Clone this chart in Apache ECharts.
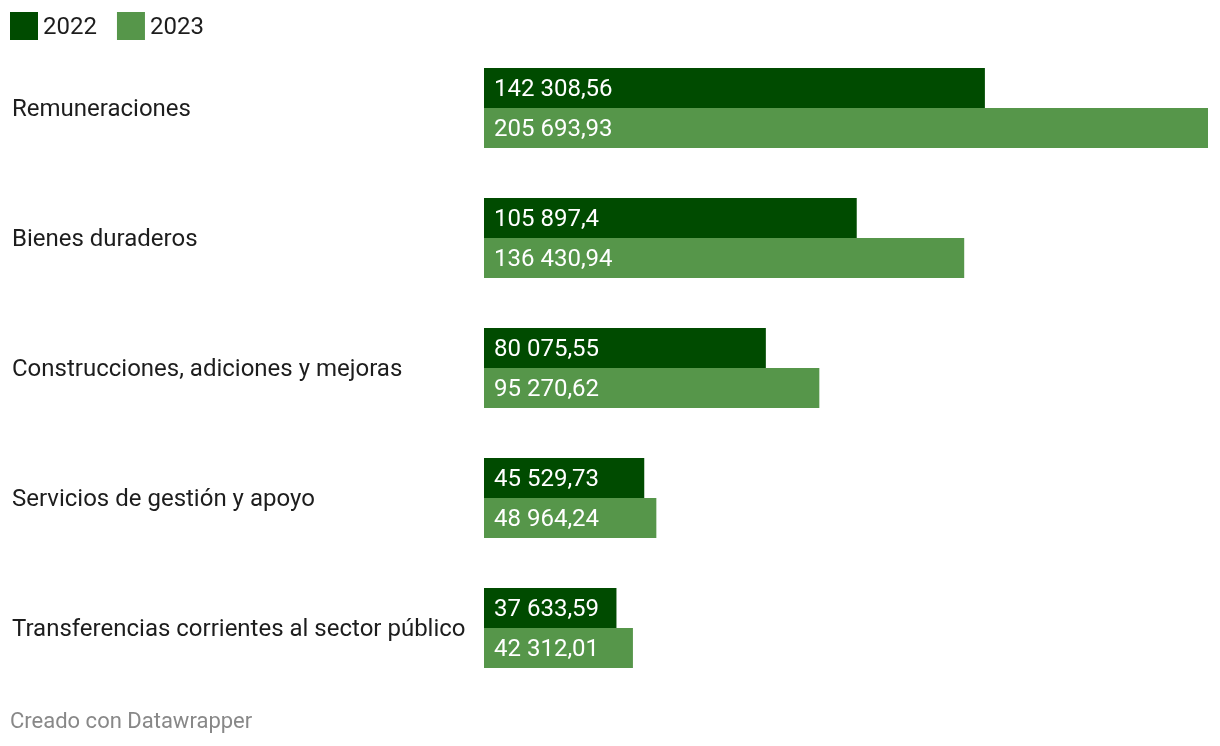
<!DOCTYPE html>
<html>
<head>
<meta charset="utf-8">
<script src="https://cdn.jsdelivr.net/npm/echarts@6/dist/echarts.min.js"></script>
<style>
html,body{margin:0;padding:0;background:#fff;}
#chart{width:1220px;height:746px;}
</style>
</head>
<body>
<div id="chart"></div>
<script>
const categories = [
  "Remuneraciones",
  "Bienes duraderos",
  "Construcciones, adiciones y mejoras",
  "Servicios de gestión y apoyo",
  "Transferencias corrientes al sector público"
];
const seriesNames = ["2022", "2023"];
const values2022 = [142308.56, 105897.4, 80075.55, 45529.73, 37633.59];
const values2023 = [205693.93, 136430.94, 95270.62, 48964.24, 42312.01];
const footerText = "Creado con Datawrapper";

function fmt(v) {
  const s = String(v);
  const parts = s.split('.');
  const intPart = parts[0].replace(/\B(?=(\d{3})+(?!\d))/g, ' ');
  return parts.length > 1 ? intPart + ',' + parts[1] : intPart;
}

const chart = echarts.init(document.getElementById('chart'));
const font = 'Roboto, "Noto Sans", sans-serif';
const colors = ['#004b00', '#56964a'];
const maxVal = Math.max(...values2022, ...values2023);

chart.setOption({
  animation: false,
  color: colors,
  textStyle: { fontFamily: font },
  legend: {
    left: 10, top: 12, padding: 0,
    itemWidth: 28, itemHeight: 28,
    itemGap: 20, itemTextGap: 7,
    icon: 'rect',
    formatter: n => '{t|' + n + '}',
    textStyle: { fontSize: 24, color: '#1d1d1d', fontFamily: font,
      rich: { t: { fontSize: 24, color: '#1d1d1d', fontFamily: font, padding: [4, 0, 0, 0] } } },
    data: seriesNames
  },
  graphic: [{
    type: 'text', left: 10, top: 711,
    style: { text: footerText, fontSize: 22, fill: '#888888', fontFamily: font }
  }],
  grid: { left: 484, right: 12, top: 43, bottom: 53, containLabel: false },
  xAxis: {
    type: 'value', min: 0, max: maxVal,
    show: false
  },
  yAxis: {
    type: 'category', data: categories, inverse: true,
    axisLine: { show: false }, axisTick: { show: false },
    axisLabel: {
      align: 'left', margin: 472,
      formatter: v => '{t|' + v + '}',
      rich: { t: { fontSize: 24, color: '#1d1d1d', fontFamily: font, padding: [4, 0, 0, 0] } },
      fontSize: 24, color: '#1d1d1d', fontFamily: font
    }
  },
  series: [
    {
      name: seriesNames[0], type: 'bar', data: values2022,
      barWidth: 40, barGap: '0%',
      label: { show: true, position: 'insideLeft', distance: 10, offset: [0, 2], color: '#fff', fontSize: 24, fontFamily: font,
        formatter: p => fmt(p.value) }
    },
    {
      name: seriesNames[1], type: 'bar', data: values2023,
      barWidth: 40, barGap: '0%',
      label: { show: true, position: 'insideLeft', distance: 10, offset: [0, 2], color: '#fff', fontSize: 24, fontFamily: font,
        formatter: p => fmt(p.value) }
    }
  ]
});
</script>
</body>
</html>
